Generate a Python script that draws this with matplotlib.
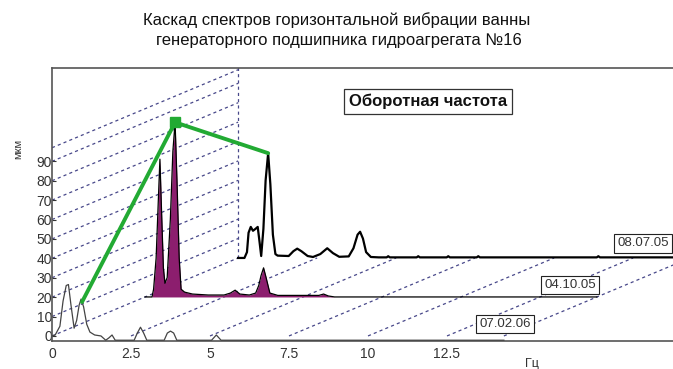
import numpy as np
import matplotlib
matplotlib.use("Agg")
import matplotlib.pyplot as plt

plt.rcParams['font.family'] = ['Liberation Sans', 'DejaVu Sans']

# spectra (Hz, мкм)
freq_070206 = [0, 0.1, 0.25, 0.35, 0.45, 0.52, 0.6, 0.7, 0.78, 0.86, 0.92, 1.0, 1.1, 1.2,
               1.35, 1.55, 1.7, 1.8, 1.9, 2.0, 2.6, 2.7, 2.8, 2.9, 3.0, 3.55, 3.65, 3.75,
               3.85, 3.95, 5.05, 5.2, 5.35, 14.3]
amp_070206 = [0, 0.5, 5, 18, 26, 26.5, 16, 4, 8, 16, 19, 15, 6, 2,
              0.5, 0, -2.2, -1, 0.5, -2.2, -2.2, 1.5, 4.5, 1.5, -2.2, -2.2, 1.5, 2.5,
              1.5, -2.2, -2.2, 0.5, -2.2, -2.2]

freq_041005 = [0, 0.22, 0.27, 0.35, 0.42, 0.47, 0.52, 0.58, 0.63, 0.7, 0.8, 0.88, 0.95,
               1.01, 1.08, 1.14, 1.25, 1.5, 2.0, 2.5, 2.7, 2.85, 3.0, 3.3, 3.5, 3.6, 3.67,
               3.75, 3.83, 3.95, 4.2, 5.5, 5.65, 5.8, 6.0, 14.3]
amp_041005 = [0, 0, 4, 20, 50, 71, 45, 15, 7, 10, 40, 75, 90,
              60, 20, 4, 2.5, 1.5, 1, 1, 2, 3.5, 1.5, 1, 2, 6, 11,
              15, 10, 2, 0.8, 0.8, 1.5, 0.5, 0, 0]

freq_080705 = [0, 0.2, 0.28, 0.33, 0.4, 0.47, 0.55, 0.62, 0.68, 0.73, 0.8, 0.87, 0.95,
               1.02, 1.1, 1.18, 1.25, 1.6, 1.75, 1.87, 2.0, 2.2, 2.37, 2.6, 2.82, 3.0,
               3.2, 3.5, 3.65, 3.78, 3.86, 3.95, 4.05, 4.2, 4.45,
               4.7, 4.75, 4.8, 5.65, 5.7, 5.75, 6.6, 6.65, 6.7, 7.55, 7.6, 7.65,
               11.35, 11.4, 11.45, 14.3]
amp_080705 = [0, 0, 3, 13, 16, 14, 15, 16, 8, 1, 15, 40, 54,
              38, 12, 2, 1.2, 1, 3.5, 4.8, 3.5, 1, 0.5, 2, 5, 2.5,
              0.6, 0.8, 5, 12, 13.5, 10, 3, 0.5, 0.3,
              0.3, 0.9, 0.3, 0.3, 0.9, 0.3, 0.3, 0.9, 0.3, 0.3, 0.9, 0.3,
              0.3, 0.9, 0.3, 0.3]

dates = ['07.02.06', '04.10.05', '08.07.05']
rot_freq = 0.95
y_ticks = [0, 10, 20, 30, 40, 50, 60, 70, 80, 90]
x_ticks = [0, 2.5, 5, 7.5, 10, 12.5]
x_tick_labels = ['0', '2.5', '5', '7.5', '10', '12.5']
wall_levels = [0, 10, 20, 30, 40, 50, 60, 70, 80, 90, 97]
floor_marks = [2.5, 5, 7.5, 10, 12.5, 14.3]

spectra = [(freq_070206, amp_070206), (freq_041005, amp_041005), (freq_080705, amp_080705)]
depths = [0.0, 0.5, 1.0]

# depth shift of the back plane, in data units
DX, DY = 5.89, 40.2

fig = plt.figure(figsize=(6.73, 3.69), dpi=100)
ax = fig.add_axes([52 / 673, 28 / 369, 621 / 673, 273 / 369])
ax.set_xlim(0, 621 / 31.6)
ax.set_ylim(-2.6, 138.1)

grid_kw = dict(color='#48488a', lw=0.9, ls=(0, (2.5, 2.5)), zorder=1)
for lev in wall_levels:
    ax.plot([0, DX], [lev, lev + DY], **grid_kw)
for fm in floor_marks:
    ax.plot([fm, fm + DX], [0, DY], **grid_kw)
ax.plot([DX, DX], [DY, 140], **grid_kw)

styles = [dict(color='#444444', lw=0.9),
          dict(color='black', lw=0.9),
          dict(color='black', lw=1.6)]
peaks = []
for (fr, am), d, st, z in zip(spectra, depths, styles, [4, 3, 2]):
    peak_amp = np.interp(rot_freq, fr, am)
    fr = np.array(fr) + d * DX
    am = np.array(am) + d * DY
    if d == 0.5:
        ax.fill_between(fr, d * DY, am, color='#8c1e6e', lw=0, zorder=z)
    ax.plot(fr, am, zorder=z + 0.1, **st)
    peaks.append((rot_freq + d * DX, peak_amp + d * DY))

px, py = zip(*peaks)
ax.plot(px, py, color='#22aa33', lw=2.8, zorder=6, solid_capstyle='round')
ax.plot(px[1], py[1], marker='s', ms=7, color='#22aa33', mec='#22aa33', zorder=7)

# date labels
label_x = [14.33, 16.39, 18.7]
label_y = [6.2, 6.2, 7.5]
for txt, lx, ly, d in zip(dates, label_x, label_y, depths):
    ax.text(lx, ly + d * DY, txt, ha='center', va='center', fontsize=9.5, color='#333333',
            bbox=dict(boxstyle='square,pad=0.25', fc='white', ec='#222222', lw=0.8), zorder=8)

ax.text((428 - 52) / 31.6, (336 - 101.5) / 1.94, 'Оборотная частота', ha='center', va='center',
        fontsize=12, fontweight='bold', color='#111111',
        bbox=dict(boxstyle='square,pad=0.3', fc='white', ec='#333333', lw=0.9), zorder=8)

ax.set_yticks(y_ticks)
ax.set_yticklabels([str(v) for v in y_ticks])
ax.set_xticks(x_ticks)
ax.set_xticklabels(x_tick_labels)
ax.tick_params(axis='y', direction='in', length=3, pad=0, labelsize=10, colors='#333333')
ax.tick_params(axis='x', length=0, pad=4, labelsize=10, colors='#333333')
for s in ['left', 'bottom', 'top']:
    ax.spines[s].set_color('#555555')
    ax.spines[s].set_linewidth(1.2)
ax.spines['right'].set_visible(False)

fig.text(18 / 673, 1 - 149 / 369, 'мкм', rotation=90, fontsize=8, ha='center', va='center', color='#333333')
fig.text(532 / 673, 1 - 364 / 369, 'Гц', fontsize=9, ha='center', va='center', color='#333333')

fig.text(0.5, 1 - 20 / 369, 'Каскад спектров горизонтальной вибрации ванны', ha='center', va='center',
         fontsize=12, color='#111111')
fig.text(0.503, 1 - 41 / 369, 'генераторного подшипника гидроагрегата №16', ha='center', va='center',
         fontsize=12, color='#111111')

fig.savefig('out.png', dpi=100)
